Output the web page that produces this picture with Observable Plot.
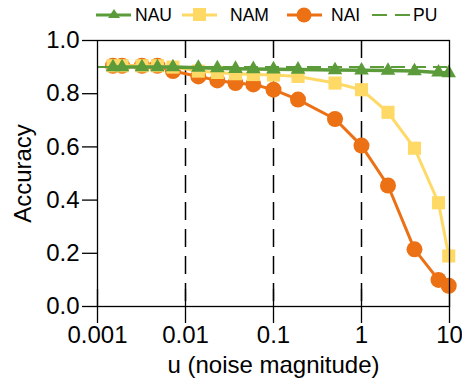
<!DOCTYPE html>
<html>
<head>
<meta charset="utf-8">
<script src="https://cdn.jsdelivr.net/npm/d3@7"></script>
<script src="https://cdn.jsdelivr.net/npm/@observablehq/plot@0.6"></script>
<style>
  html, body { margin: 0; padding: 0; background: white; }
  #wrap { position: relative; width: 462px; font-family: "Liberation Sans", Arial, sans-serif; }
  #legend { position: relative; height: 30px; width: 462px; }
  .item { position: absolute; top: 4px; height: 22px; display: flex; align-items: center; font-size: 17.5px; color: #000; }
  .item svg { display: block; }
</style>
</head>
<body>
<div id="wrap">
  <div id="legend"></div>
  <div id="chart"></div>
</div>
<script>
// ---- data ----
const uValues = [0.0015, 0.0019, 0.0032, 0.0048, 0.0072, 0.014, 0.023, 0.037, 0.059, 0.1, 0.19, 0.5, 1, 2, 4, 7.5, 9.8];
const NAU = [0.9, 0.9, 0.9, 0.9, 0.9, 0.898, 0.896, 0.894, 0.893, 0.892, 0.891, 0.889, 0.888, 0.887, 0.885, 0.88, 0.878];
const NAM = [0.905, 0.905, 0.905, 0.905, 0.9, 0.885, 0.88, 0.875, 0.872, 0.87, 0.865, 0.84, 0.815, 0.73, 0.595, 0.39, 0.19];
const NAI = [0.905, 0.905, 0.905, 0.905, 0.885, 0.865, 0.85, 0.84, 0.835, 0.815, 0.778, 0.705, 0.605, 0.455, 0.215, 0.1, 0.078];
const PU = 0.9;
const seriesNames = ["NAU", "NAM", "NAI", "PU"];
const xTicks = [0.001, 0.01, 0.1, 1, 10];
const xTickLabels = ["0.001", "0.01", "0.1", "1", "10"];
const gridTicks = [0.01, 0.1, 1];
const yTicks = [0, 0.2, 0.4, 0.6, 0.8, 1.0];

const colors = { NAU: "#5b9b3a", NAM: "#ffd966", NAI: "#ec7014", PU: "#5b9b3a" };

const toRows = (vals) => uValues.map((u, i) => ({ u, v: vals[i] }));
const nau = toRows(NAU), nam = toRows(NAM), nai = toRows(NAI);

// ---- legend ----
const legend = document.getElementById("legend");
const legendPos = { NAU: 96, NAM: 182, NAI: 287, PU: 372 };
const textGap = { NAU: 4, NAM: 13, NAI: 9, PU: 3 };
for (const name of seriesNames) {
  const c = colors[name];
  let marker = "";
  if (name === "NAU") marker = `<path d="M18,5 L24,14 L12,14 Z" fill="${c}"/>`;
  if (name === "NAM") marker = `<rect x="11" y="4" width="13" height="13" fill="${c}"/>`;
  if (name === "NAI") marker = `<circle cx="17" cy="11" r="7.5" fill="${c}"/>`;
  const line = name === "PU"
    ? `<line x1="0" y1="11" x2="38" y2="11" stroke="${c}" stroke-width="2" stroke-dasharray="15,8"/>`
    : `<line x1="0" y1="11" x2="35" y2="11" stroke="${c}" stroke-width="3"/>`;
  const w = name === "PU" ? 38 : 35;
  const el = document.createElement("div");
  el.className = "item";
  el.style.left = legendPos[name] + "px";
  el.innerHTML = `<svg width="${w}" height="22">${line}${marker}</svg><span style="margin-left:${textGap[name]}px">${name}</span>`;
  legend.appendChild(el);
}

// ---- chart ----
const chart = Plot.plot({
  width: 462,
  height: 349,
  marginTop: 10,
  marginBottom: 73,
  marginLeft: 97,
  marginRight: 13,
  style: { fontFamily: "'Liberation Sans', Arial, sans-serif", fontSize: "24px", color: "#000", background: "white", overflow: "visible" },
  x: { type: "log", domain: [0.001, 10] },
  y: { domain: [0, 1] },
  marks: [
    Plot.ruleX(gridTicks, { stroke: "black", strokeWidth: 1.5, strokeDasharray: "18,9" }),
    Plot.axisY({ ticks: yTicks, tickFormat: d3.format(".1f"), tickSize: 15, tickPadding: 3, fontSize: 24, strokeWidth: 1.3,
      label: "Accuracy", labelAnchor: "center", labelArrow: "none", labelOffset: 84 }),
    Plot.axisX({ ticks: xTicks, tickFormat: (d) => xTickLabels[xTicks.indexOf(d)], tickSize: 17, tickPadding: 2, fontSize: 24, strokeWidth: 1.3,
      label: "u (noise magnitude)", labelAnchor: "center", labelArrow: "none", labelOffset: 66 }),
    Plot.axisX({ ticks: xTicks, tickSize: 17, dy: -17, text: null, label: null, strokeWidth: 1.3 }),
    Plot.line(nai, { x: "u", y: "v", stroke: colors.NAI, strokeWidth: 3 }),
    Plot.dot(nai, { x: "u", y: "v", symbol: "circle", r: 8, fill: colors.NAI }),
    Plot.line(nam, { x: "u", y: "v", stroke: colors.NAM, strokeWidth: 3 }),
    Plot.dot(nam, { x: "u", y: "v", symbol: "square", r: 7.4, fill: colors.NAM }),
    Plot.line(nau, { x: "u", y: "v", stroke: colors.NAU, strokeWidth: 3.5 }),
    Plot.dot(nau, { x: "u", y: "v", symbol: "triangle", r: 5.4, fill: colors.NAU }),
    Plot.ruleY([PU], { stroke: colors.PU, strokeWidth: 2, strokeDasharray: "14,7" }),
    Plot.frame({ stroke: "black", strokeWidth: 1.3 })
  ]
});
document.getElementById("chart").appendChild(chart);
</script>
</body>
</html>
